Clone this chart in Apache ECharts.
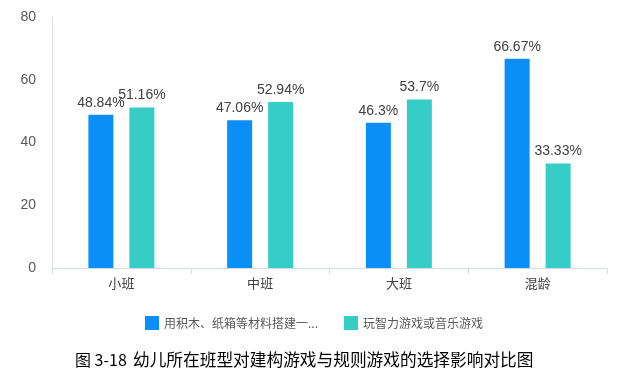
<!DOCTYPE html>
<html><head><meta charset="utf-8">
<script src="https://cdn.jsdelivr.net/npm/echarts@6/dist/echarts.min.js"></script>
<style>html,body{margin:0;padding:0;background:#fff}#c{width:641px;height:380px}</style>
</head><body><div id="c"></div>
<script>
const categories = ['小班', '中班', '大班', '混龄'];
const seriesNames = ['用积木、纸箱等材料搭建一...', '玩智力游戏或音乐游戏'];
const buildValues = [48.84, 47.06, 46.3, 66.67];
const ruleValues = [51.16, 52.94, 53.7, 33.33];
const yTicks = [0, 20, 40, 60, 80];
const captionPrefix = '图 3-18';
const captionText = '幼儿所在班型对建构游戏与规则游戏的选择影响对比图';

const chart = echarts.init(document.getElementById('c'), null, {renderer: 'canvas'});
const labelCfg = {show: true, position: 'top', distance: 5, fontSize: 14, color: '#404040',
  fontFamily: 'Liberation Sans, Arial, sans-serif', formatter: p => p.value + '%'};
chart.setOption({
  animation: false,
  backgroundColor: '#fff',
  grid: {left: 52, right: 34, top: 17, bottom: 112, containLabel: false},
  legend: {
    left: 140, top: 311, itemWidth: 14, itemHeight: 14, itemGap: 26, icon: 'rect',
    textStyle: {fontSize: 12, color: '#595959', fontFamily: 'Noto Sans CJK SC, sans-serif'},
    data: seriesNames
  },
  xAxis: {
    type: 'category', data: categories,
    axisLine: {lineStyle: {color: '#d3dbe3'}},
    axisTick: {show: true, length: 6, lineStyle: {color: '#d3dbe3'}},
    axisLabel: {fontSize: 13, color: '#404040', margin: 9, fontFamily: 'Noto Sans CJK SC, sans-serif'}
  },
  yAxis: {
    type: 'value', min: yTicks[0], max: yTicks[yTicks.length - 1], interval: 20,
    axisLine: {show: true, lineStyle: {color: '#dde3e8'}},
    axisTick: {show: false},
    splitLine: {show: false},
    axisLabel: {fontSize: 14, color: '#595959', margin: 16, fontFamily: 'Liberation Sans, Arial, sans-serif'}
  },
  series: [
    {name: seriesNames[0], type: 'bar', data: buildValues, barWidth: 25, barGap: '64%',
      itemStyle: {color: '#0a8ff7'}, label: labelCfg},
    {name: seriesNames[1], type: 'bar', data: ruleValues, barWidth: 25,
      itemStyle: {color: '#36cdc6'}, label: labelCfg}
  ],
  graphic: [
    {type: 'text', left: 75, top: 352, style: {text: captionPrefix, fontSize: 16, fill: '#000',
      fontFamily: 'Noto Sans CJK SC, Liberation Serif, serif'}},
    {type: 'text', left: 133, top: 351, style: {text: captionText, fontSize: 16.7, fill: '#000',
      fontFamily: 'Noto Sans CJK SC, sans-serif'}}
  ]
});
</script></body></html>
